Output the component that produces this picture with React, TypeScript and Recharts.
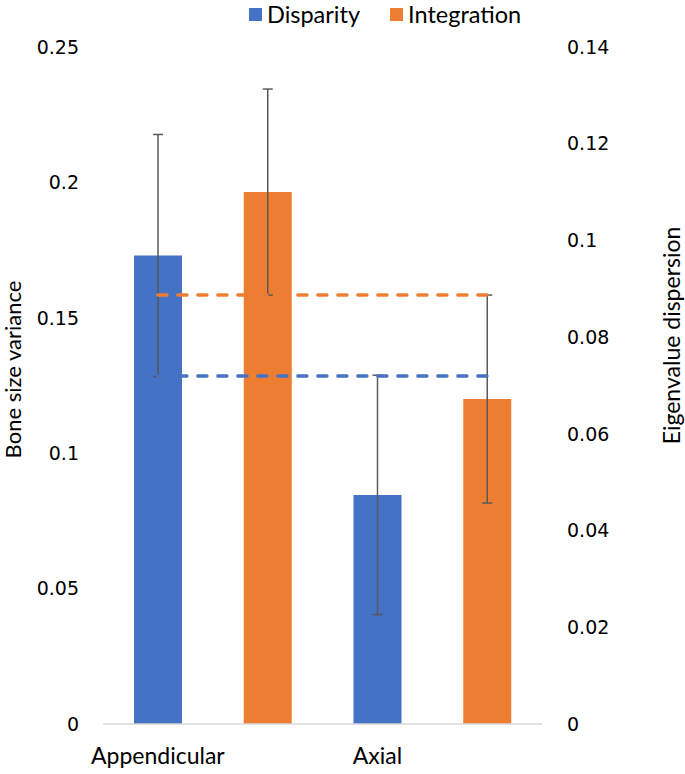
import React from "react";
import {
  ComposedChart,
  Bar,
  Line,
  XAxis,
  YAxis,
  Legend,
  ErrorBar,
} from "recharts";

const groups = ["Appendicular", "Axial"];
const disparity = [0.173, 0.0846];
const disparityErr = [0.0447, 0.0442];
const integration = [0.11, 0.0672];
const integrationErr = [0.0213, 0.0215];
const disparityRef = 0.1285;
const integrationRef = 0.0887;

const leftTicks = [0, 0.05, 0.1, 0.15, 0.2, 0.25];
const rightTicks = [0, 0.02, 0.04, 0.06, 0.08, 0.1, 0.12, 0.14];

const BLUE = "#4472C4";
const ORANGE = "#ED7D31";

// one slot per bar: disparity then integration for each group
const data = groups.flatMap((g, i) => [
  {
    slot: g + "-d",
    label: g,
    disparity: disparity[i],
    dErr: disparityErr[i],
    integration: null,
    iErr: null,
    dRef: disparityRef,
    iRef: integrationRef,
  },
  {
    slot: g + "-i",
    label: "",
    disparity: null,
    dErr: null,
    integration: integration[i],
    iErr: integrationErr[i],
    dRef: disparityRef,
    iRef: integrationRef,
  },
]);

const numTick = { fill: "#000", fontSize: 19, fontFamily: "DejaVu Sans" };
const textFont = "Lato";

const renderLegend = () => (
  <div
    style={{
      display: "flex",
      gap: 30,
      fontFamily: textFont,
      fontSize: 23.5,
      lineHeight: "28px",
      color: "#000",
      alignItems: "center",
    }}
  >
    {[
      { name: "Disparity", color: BLUE },
      { name: "Integration", color: ORANGE },
    ].map((it) => (
      <div key={it.name} style={{ display: "flex", alignItems: "center" }}>
        <span
          style={{
            width: 13,
            height: 13,
            background: it.color,
            display: "inline-block",
            marginRight: 5,
          }}
        />
        {it.name}
      </div>
    ))}
  </div>
);

const App = () => (
  <div style={{ position: "absolute", left: 0, top: 0 }}>
    <ComposedChart
      width={685}
      height={774}
      data={data}
      margin={{ top: 47, right: 0, bottom: 0, left: 0 }}
    >
      <XAxis
        xAxisId="main"
        dataKey="slot"
        height={50}
        tickLine={false}
        axisLine={{ stroke: "#D9D9D9", strokeWidth: 1.5 }}
        tickFormatter={(v, i) => data[i]?.label ?? ""}
        tick={{ fill: "#000", fontSize: 23, fontFamily: textFont }}
        tickMargin={18}
      />
      <XAxis xAxisId="alt" dataKey="slot" orientation="top" height={0} hide />
      <YAxis
        yAxisId="left"
        width={103}
        domain={[0, 0.25]}
        ticks={leftTicks}
        axisLine={false}
        tickLine={false}
        tickSize={0}
        tickMargin={24}
        tick={numTick}
        label={{
          value: "Bone size variance",
          angle: -90,
          position: "center",
          dx: -38,
          dy: -16,
          style: { fontFamily: textFont, fontSize: 22, fill: "#000" },
        }}
      />
      <YAxis
        yAxisId="right"
        orientation="right"
        width={143}
        domain={[0, 0.14]}
        ticks={rightTicks}
        axisLine={false}
        tickLine={false}
        tickSize={0}
        tickMargin={25}
        tick={{ ...numTick, textAnchor: "start" }}
        label={{
          value: "Eigenvalue dispersion",
          angle: -90,
          position: "center",
          dx: 58,
          dy: -50,
          style: { fontFamily: textFont, fontSize: 23, fill: "#000" },
        }}
      />
      <Legend
        layout="horizontal"
        verticalAlign="middle"
        align="center"
        content={renderLegend}
        wrapperStyle={{ top: 0, left: 249, width: 300, height: 28 }}
      />
      <Bar
        xAxisId="main"
        yAxisId="left"
        dataKey="disparity"
        name="Disparity"
        fill={BLUE}
        barSize={48}
        isAnimationActive={false}
      >
        <ErrorBar dataKey="dErr" width={5} stroke="#595959" strokeWidth={1.5} />
      </Bar>
      <Bar
        xAxisId="alt"
        yAxisId="right"
        dataKey="integration"
        name="Integration"
        fill={ORANGE}
        barSize={48}
        isAnimationActive={false}
      >
        <ErrorBar dataKey="iErr" width={5} stroke="#595959" strokeWidth={1.5} />
      </Bar>
      <Line
        xAxisId="main"
        yAxisId="left"
        dataKey="dRef"
        stroke={BLUE}
        strokeWidth={3.5}
        strokeDasharray="9 11"
        strokeLinecap="round"
        dot={false}
        activeDot={false}
        legendType="none"
        isAnimationActive={false}
      />
      <Line
        xAxisId="main"
        yAxisId="right"
        dataKey="iRef"
        stroke={ORANGE}
        strokeWidth={3.5}
        strokeDasharray="9 11"
        strokeLinecap="round"
        dot={false}
        activeDot={false}
        legendType="none"
        isAnimationActive={false}
      />
    </ComposedChart>
  </div>
);

export default App;
